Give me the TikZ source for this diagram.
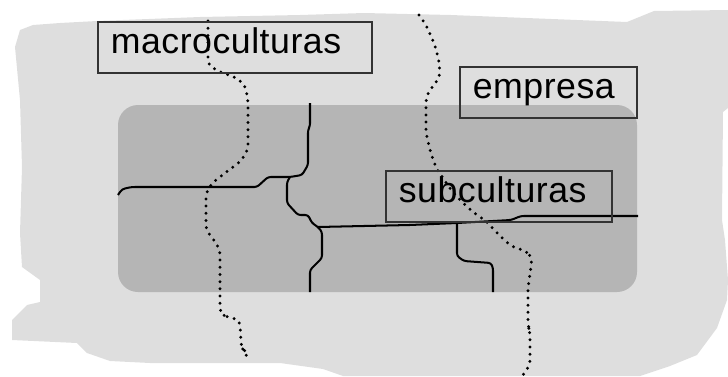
\documentclass[tikz,border=0pt]{standalone}
\usepackage{fontspec}
\newfontfamily\labelfont[LetterSpace=1.5]{Liberation Sans}
\usetikzlibrary{calc}

\definecolor{blobgray}{gray}{0.87}
\definecolor{rectgray}{gray}{0.71}
\definecolor{boxline}{gray}{0.2}

\begin{document}
\begin{tikzpicture}[x=0.02cm, y=-0.02cm,
  % solid boundaries inside the company
  border/.style={line width=1.15pt, line join=round, rounded corners=1.5pt},
  % dotted boundaries of the macrocultures
  macroline/.style={line width=1.85pt, line cap=round, dash pattern=on 0pt off 4.1pt,
                    rounded corners=3pt},
  % label boxes: frame only
  labelbox/.style={draw=boxline, line width=0.9pt, anchor=north west, align=left,
                   inner xsep=0.26cm, inner ysep=0pt, minimum height=1.02cm,
                   text height=0.72em, text depth=0pt,
                   font=\labelfont\fontsize{20.3}{24}\selectfont}
]
  \useasboundingbox (0,0) rectangle (728,376);

  % Light background (society)
  \fill[blobgray] (20,30) -- (33,25) -- (60,23) -- (97,21) -- (200,17) -- (300,15)
    -- (364,13) -- (451,15) -- (627,22) -- (654,11) -- (728,10) -- (728,108)
    -- (723,112) -- (722,220) -- (725,240) -- (728,280) -- (727,300) -- (717,328)
    -- (697,355) -- (670,366) -- (640,376) -- (343,376) -- (323,369) -- (280,363)
    -- (150,363) -- (110,361) -- (87,353) -- (77,343) -- (12,340) -- (12,320)
    -- (27,305) -- (40,302) -- (40,280) -- (22,267) -- (20,233) -- (22,167)
    -- (20,100) -- (15,47) -- cycle;

  % Company
  \fill[rectgray, rounded corners=0.4cm] (118,105) rectangle (637,292);

  % Junctions of the solid boundaries
  \coordinate (jleft)  at (290,177);
  \coordinate (jmid)   at (318,227);
  \coordinate (jright) at (457,223);

  % Solid boundaries
  \draw[border] (118,195) .. controls (122,189) .. (132,187) -- (257,187) -- (268,177)
    -- (jleft) -- (302,175) -- (308,165) -- (308,130) -- (310,126) -- (310,103);
  \draw[border] (jleft) -- (287,182) -- (287,203) -- (298,215) -- (308,215)
    -- (312,223) -- (jmid) -- (322,232) -- (322,258) -- (310,270) -- (310,292);
  \draw[border] (jmid) -- (410,225) -- (jright) -- (511,220) -- (521,216) -- (638,216);
  \draw[border] (jright) -- (457,256) -- (464,261) -- (491,263) -- (493,268) -- (493,292);

  % Dotted boundaries
  \draw[macroline] (208,21) -- (208,65) -- (220,72) -- (235,77) -- (245,85)
    -- (248,100) -- (248,150) -- (240,162) -- (225,173) -- (212,183) -- (206,193)
    -- (206,230) -- (214,240) -- (220,250) -- (220,313) -- (227,317) -- (240,320)
    -- (241,347) -- (245,351) -- (248,361);
  \draw[macroline] (419,15) -- (426,25) -- (434,43) -- (439,60) -- (440,77)
    -- (432,87) -- (426,97) -- (426,133) -- (430,150) -- (436,168) -- (443,178)
    -- (451,190) -- (460,200) -- (473,212) -- (486,221) -- (497,233) -- (511,246)
    -- (528,252) -- (532,260) -- (528,288) -- (528,326) -- (530,332) -- (530,365)
    -- (523,375);

  % Labels
  \node[labelbox, text width=4.96cm] (macro) at (97,21)  {macroculturas};
  \node[labelbox, text width=3.02cm] (empresa) at (459,66) {empresa};
  \node[labelbox, text width=4.0cm]  (sub) at (385,170) {subculturas};
\end{tikzpicture}
\end{document}
